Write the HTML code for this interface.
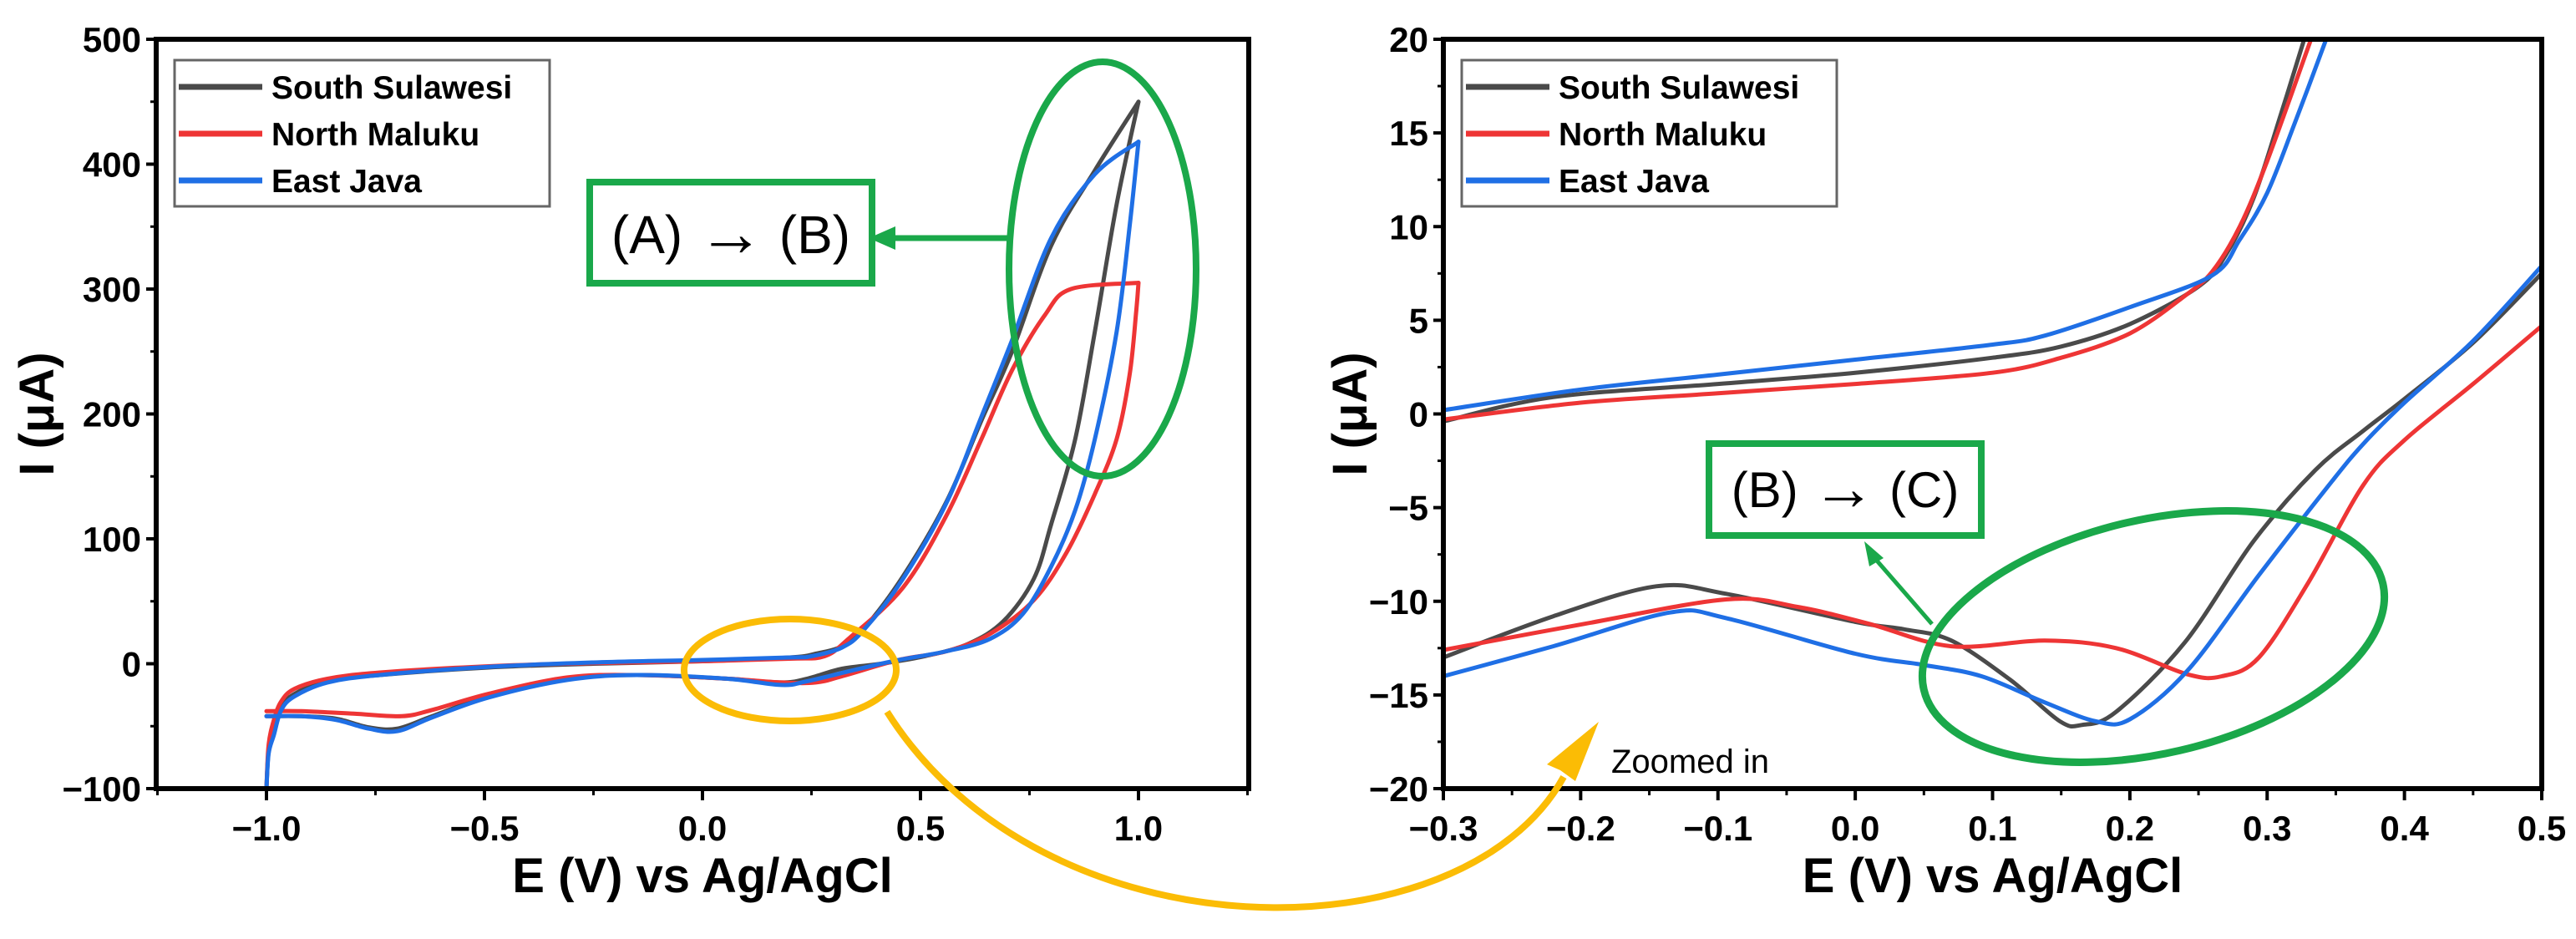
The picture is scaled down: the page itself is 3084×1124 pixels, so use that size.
<!DOCTYPE html>
<html><head><meta charset="utf-8">
<style>
html,body{margin:0;padding:0;background:#fff;}
svg{display:block;}
text{font-family:"Liberation Sans",Arial,sans-serif;}
</style></head>
<body>
<svg id="fig" width="3084" height="1124" viewBox="0 0 3084 1124" xmlns="http://www.w3.org/2000/svg">
<defs>
<clipPath id="clipL"><rect x="187" y="47" width="1308" height="897"/></clipPath>
<clipPath id="clipR"><rect x="1728" y="47" width="1315" height="897"/></clipPath>
</defs>
<g id="left"></g>
<g id="right"></g>
<g id="anno"></g>
</svg>
<script>
// ---------- data: left (full CV) ----------
const seriesNames = ["South Sulawesi","North Maluku","East Java"];
const seriesColors = ["#4a4a4a","#ee3535","#1f6fe5"];
const leftXTicks = [-1.0,-0.5,0.0,0.5,1.0];
const leftXTickLabels = ["\u22121.0","\u22120.5","0.0","0.5","1.0"];
const leftYTicks = [-100,0,100,200,300,400,500];
const leftYTickLabels = ["\u2212100","0","100","200","300","400","500"];
const leftSSfwd = [[-1.0,-100],[-0.995,-70],[-0.983,-55],[-0.966,-35],[-0.935,-24],[-0.86,-14],[-0.74,-9],[-0.49,-3],[-0.25,0],[0,2],[0.2,5],[0.26,8],[0.32,14],[0.37,28],[0.46,70],[0.56,130],[0.64,195],[0.71,250],[0.80,335],[0.90,395],[1.0,450]];
const leftSSrev = [[1.0,450],[0.95,368],[0.90,266],[0.855,180],[0.80,112],[0.76,68],[0.69,34],[0.61,16],[0.51,6],[0.41,0],[0.32,-4],[0.24,-12],[0.18,-15],[0.055,-12],[-0.15,-9],[-0.31,-12],[-0.49,-26],[-0.62,-42],[-0.70,-52],[-0.765,-51],[-0.84,-44],[-0.92,-42],[-1.0,-42]];
const leftNMfwd = [[-1.0,-100],[-0.995,-65],[-0.983,-45],[-0.966,-30],[-0.935,-20],[-0.86,-12],[-0.74,-7],[-0.49,-2],[-0.25,0.5],[0,2],[0.2,4],[0.28,6],[0.335,20],[0.46,61],[0.56,119],[0.64,180],[0.71,235],[0.785,279],[0.845,300],[1.0,305]];
const leftNMrev = [[1.0,305],[0.995,283],[0.98,232],[0.95,180],[0.90,136],[0.835,89],[0.76,51],[0.66,24],[0.56,10],[0.45,3],[0.32,-10],[0.26,-15],[0.18,-15],[0.055,-12],[-0.15,-9],[-0.31,-11],[-0.49,-24],[-0.62,-37],[-0.69,-42],[-0.80,-40],[-0.92,-38],[-1.0,-38]];
const leftEJfwd = [[-1.0,-100],[-0.995,-72],[-0.983,-57],[-0.966,-37],[-0.935,-26],[-0.86,-15],[-0.74,-9],[-0.49,-2.5],[-0.25,1],[0,3],[0.2,5],[0.25,6],[0.32,13],[0.37,27],[0.46,68],[0.56,129],[0.64,198],[0.71,259],[0.80,341],[0.90,392],[1.0,418]];
const leftEJrev = [[1.0,418],[0.98,351],[0.95,266],[0.90,180],[0.855,123],[0.80,78],[0.735,40],[0.66,20],[0.56,10],[0.45,3],[0.36,-4],[0.24,-14],[0.18,-17],[0.055,-12],[-0.15,-9],[-0.31,-13],[-0.49,-27],[-0.62,-43],[-0.70,-54],[-0.765,-52],[-0.84,-45],[-0.92,-42],[-1.0,-42]];
// ---------- data: right (zoomed) ----------
const rightXTicks = [-0.3,-0.2,-0.1,0.0,0.1,0.2,0.3,0.4,0.5];
const rightXTickLabels = ["\u22120.3","\u22120.2","\u22120.1","0.0","0.1","0.2","0.3","0.4","0.5"];
const rightYTicks = [-20,-15,-10,-5,0,5,10,15,20];
const rightYTickLabels = ["\u221220","\u221215","\u221210","\u22125","0","5","10","15","20"];
const rightSSfwd = [[-0.3,-0.4],[-0.22,0.9],[-0.1,1.6],[0,2.2],[0.1,3.0],[0.15,3.6],[0.2,4.8],[0.25,6.8],[0.27,8.5],[0.29,11.5],[0.31,16],[0.327,20],[0.333,21.5]];
const rightSSrev = [[-0.3,-13.0],[-0.22,-10.8],[-0.145,-9.2],[-0.094,-9.6],[0.0,-11.1],[0.036,-11.5],[0.07,-12.1],[0.113,-14.2],[0.149,-16.4],[0.165,-16.6],[0.19,-15.9],[0.24,-12.2],[0.29,-6.8],[0.335,-3.0],[0.37,-0.9],[0.4,0.8],[0.45,3.8],[0.5,7.5]];
const rightNMfwd = [[-0.3,-0.3],[-0.2,0.6],[-0.1,1.1],[0,1.6],[0.1,2.2],[0.15,3.0],[0.2,4.3],[0.24,6.3],[0.26,7.6],[0.28,10],[0.3,13.5],[0.332,20],[0.34,21.5]];
const rightNMrev = [[-0.3,-12.6],[-0.197,-11.2],[-0.094,-9.9],[-0.042,-10.3],[0.01,-11.2],[0.07,-12.4],[0.138,-12.1],[0.19,-12.5],[0.242,-13.9],[0.267,-14.0],[0.294,-13.0],[0.33,-9.0],[0.37,-3.8],[0.4,-1.4],[0.45,1.6],[0.5,4.7]];
const rightEJfwd = [[-0.3,0.2],[-0.2,1.3],[-0.1,2.1],[0,2.9],[0.1,3.7],[0.139,4.2],[0.2,5.7],[0.26,7.4],[0.28,9.3],[0.3,11.8],[0.32,15.5],[0.343,20],[0.35,21.5]];
const rightEJrev = [[-0.3,-14.0],[-0.22,-12.4],[-0.135,-10.6],[-0.094,-10.9],[0.0,-12.8],[0.05,-13.4],[0.092,-14.0],[0.138,-15.4],[0.175,-16.4],[0.20,-16.3],[0.242,-13.7],[0.294,-8.6],[0.345,-3.8],[0.37,-1.6],[0.4,0.6],[0.45,3.9],[0.5,7.9]];

const NS="http://www.w3.org/2000/svg";
function mk(tag, attrs, parent){const e=document.createElementNS(NS,tag);for(const k in attrs)e.setAttribute(k,attrs[k]);parent.appendChild(e);return e;}
function smooth(pts){
  let d="M"+pts[0][0].toFixed(1)+","+pts[0][1].toFixed(1);
  for(let i=0;i<pts.length-1;i++){
    const p0=pts[Math.max(0,i-1)],p1=pts[i],p2=pts[i+1],p3=pts[Math.min(pts.length-1,i+2)];
    const t=6;
    const c1=[p1[0]+(p2[0]-p0[0])/t,p1[1]+(p2[1]-p0[1])/t];
    const c2=[p2[0]-(p3[0]-p1[0])/t,p2[1]-(p3[1]-p1[1])/t];
    d+=" C"+c1[0].toFixed(1)+","+c1[1].toFixed(1)+" "+c2[0].toFixed(1)+","+c2[1].toFixed(1)+" "+p2[0].toFixed(1)+","+p2[1].toFixed(1);
  }
  return d;
}
function drawChart(g, cfg){
  const {x0,x1,y0,y1,xmin,xmax,ymin,ymax}=cfg;
  const X=v=>x0+(v-xmin)/(xmax-xmin)*(x1-x0);
  const Y=v=>y1-(v-ymin)/(ymax-ymin)*(y1-y0);
  const sg=mk("g",{"clip-path":"url(#"+cfg.clip+")"},g);
  cfg.series.forEach((s,si)=>{
    [s.fwd,s.rev].forEach((arr,k)=>{
      const p=mk("path",{d:smooth(arr.map(q=>[X(q[0]),Y(q[1])])),fill:"none",stroke:seriesColors[si],"stroke-width":5,"stroke-linejoin":"round","stroke-linecap":"round"},sg);
      
      
    });
  });
  const fr=mk("rect",{x:x0,y:y0,width:x1-x0,height:y1-y0,fill:"none",stroke:"#000","stroke-width":6},g);
  
  
  cfg.xTicks.forEach((v,i)=>{
    mk("line",{x1:X(v),x2:X(v),y1:y1,y2:y1+14,stroke:"#000","stroke-width":4},g);
    const t=mk("text",{x:X(v),y:1006,"text-anchor":"middle","font-size":42,"font-weight":"bold"},g);
    t.textContent=cfg.xLabels[i];
    
    
  });
  cfg.xMinor.forEach(v=>{mk("line",{x1:X(v),x2:X(v),y1:y1,y2:y1+8,stroke:"#000","stroke-width":3},g);});
  cfg.yTicks.forEach((v,i)=>{
    mk("line",{x1:x0-12,x2:x0,y1:Y(v),y2:Y(v),stroke:"#000","stroke-width":4},g);
    const t=mk("text",{x:x0-18,y:Y(v)+15,"text-anchor":"end","font-size":42,"font-weight":"bold"},g);
    t.textContent=cfg.yLabels[i];
    
    
  });
  cfg.yMinor.forEach(v=>{mk("line",{x1:x0-7,x2:x0,y1:Y(v),y2:Y(v),stroke:"#000","stroke-width":3},g);});
  const xt=mk("text",{x:(x0+x1)/2,y:1068,"text-anchor":"middle","font-size":58,"font-weight":"bold"},g);
  xt.textContent="E (V) vs Ag/AgCl";
  
  
  const yt=mk("text",{x:0,y:0,"text-anchor":"middle","font-size":58,"font-weight":"bold",transform:"translate("+cfg.ylabX+","+((y0+y1)/2)+") rotate(-90)"},g);
  yt.textContent="I (\u03bcA)";
  
  
  const lg=mk("g",{},g);
  
  
  const lx=x0+22;
  mk("rect",{x:lx,y:72,width:449,height:175,fill:"#fff",stroke:"#666","stroke-width":3},lg);
  seriesNames.forEach((n,i)=>{
    const yy=104+i*56;
    const ln=mk("line",{x1:lx+5,x2:lx+105,y1:yy,y2:yy,stroke:seriesColors[i],"stroke-width":7},lg);
    
    
    const t=mk("text",{x:lx+116,y:yy+14,"font-size":39,"font-weight":"bold"},lg);
    t.textContent=n;
    
    
  });
}
const range=(a,b,s)=>{const r=[];for(let v=a;v<=b+1e-9;v+=s)r.push(+v.toFixed(4));return r;};
drawChart(document.getElementById("left"),{
  prefix:"left",clip:"clipL",x0:187,x1:1495,y0:47,y1:944,xmin:-1.2529,xmax:1.2529,ymin:-100,ymax:500,
  xTicks:leftXTicks,xLabels:leftXTickLabels,yTicks:leftYTicks,yLabels:leftYTickLabels,
  xMinor:[-1.25,-0.75,-0.25,0.25,0.75,1.25],yMinor:[-50,50,150,250,350,450],ylabX:64,
  series:[{key:"south-sulawesi",fwd:leftSSfwd,rev:leftSSrev},{key:"north-maluku",fwd:leftNMfwd,rev:leftNMrev},{key:"east-java",fwd:leftEJfwd,rev:leftEJrev}]
});
drawChart(document.getElementById("right"),{
  prefix:"right",clip:"clipR",x0:1728,x1:3043,y0:47,y1:944,xmin:-0.3,xmax:0.5,ymin:-20,ymax:20,
  xTicks:rightXTicks,xLabels:rightXTickLabels,yTicks:rightYTicks,yLabels:rightYTickLabels,
  xMinor:range(-0.25,0.45,0.1),yMinor:[-17.5,-12.5,-7.5,-2.5,2.5,7.5,12.5,17.5],ylabX:1636,
  series:[{key:"south-sulawesi",fwd:rightSSfwd,rev:rightSSrev},{key:"north-maluku",fwd:rightNMfwd,rev:rightNMrev},{key:"east-java",fwd:rightEJfwd,rev:rightEJrev}]
});
</script>
<script>
const A=document.getElementById("anno");
function ak(tag,attrs,name){const e=document.createElementNS("http://www.w3.org/2000/svg",tag);for(const k in attrs)e.setAttribute(k,attrs[k]);A.appendChild(e);


return e;}
const G="#1aa84a", Yc="#fbbc05";
ak("ellipse",{cx:1320,cy:322,rx:112,ry:248,fill:"none",stroke:G,"stroke-width":8},"peak-highlight-ellipse");
ak("rect",{x:706,y:218,width:338,height:121,fill:"#fff",stroke:G,"stroke-width":8},"a-to-b-box");
const t1=ak("text",{x:875,y:303,"text-anchor":"middle","font-size":64},"a-to-b-label");
t1.innerHTML='(A) <tspan font-size="80" dy="3">\u2192</tspan><tspan dy="-3"> (B)</tspan>';
ak("line",{x1:1208,y1:285,x2:1065,y2:285,stroke:G,"stroke-width":7},"a-to-b-arrow-line");
ak("polygon",{points:"1040,285 1072,271 1072,299",fill:G},"a-to-b-arrowhead");
ak("ellipse",{cx:946,cy:802,rx:127,ry:61,fill:"none",stroke:Yc,"stroke-width":8},"zoom-region-ellipse");
ak("path",{d:"M1062,852 C1250,1150 1750,1150 1872,930",fill:"none",stroke:Yc,"stroke-width":8},"zoom-arrow-curve");
ak("polygon",{points:"1914,864 1852,915 1868,922 1886,935",fill:Yc},"zoom-arrowhead");
const t2=ak("text",{x:1929,y:925,"font-size":40},"zoomed-in-label");t2.textContent="Zoomed in";
ak("ellipse",{cx:2578,cy:762,rx:282,ry:140,transform:"rotate(-13 2578 762)",fill:"none",stroke:G,"stroke-width":9},"reduction-peak-ellipse");
ak("rect",{x:2046,y:531,width:326,height:110,fill:"#fff",stroke:G,"stroke-width":8},"b-to-c-box");
const t3=ak("text",{x:2209,y:607,"text-anchor":"middle","font-size":60},"b-to-c-label");
t3.innerHTML='(B) <tspan font-size="76" dy="3">\u2192</tspan><tspan dy="-3"> (C)</tspan>';
ak("line",{x1:2313,y1:747,x2:2246,y2:670,stroke:G,"stroke-width":5},"b-to-c-arrow-line");
ak("polygon",{points:"2232,648 2255,668 2238,678",fill:G},"b-to-c-arrowhead");
</script>
</body></html>
